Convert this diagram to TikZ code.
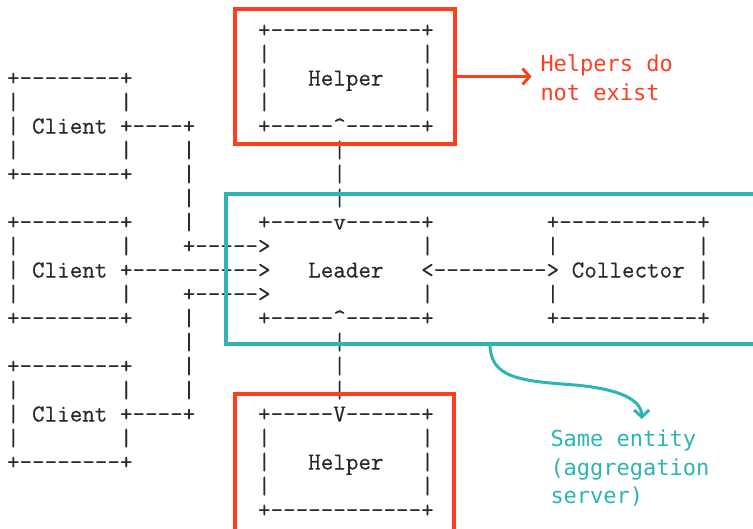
\documentclass[tikz,border=0pt]{standalone}
\usepackage{fontspec}
\newfontfamily\ascfont[FakeBold=0.5]{Latin Modern Mono}
\newfontfamily\notefont{DejaVu Sans Mono}
\usetikzlibrary{arrows.meta}
\definecolor{ink}{HTML}{2A2A2A}
\definecolor{hired}{HTML}{FF3D1F}
\definecolor{tealc}{HTML}{2DB4B4}
\newdimen\cw \cw=12.55pt
\newlength\glw
\settowidth\glw{\ascfont\fontsize{24}{24}\selectfont +}
\newlength\ascsize
\setlength\ascsize{\dimexpr 24pt*\numexpr\cw\relax/\numexpr\glw\relax\relax}
\newcommand\bl[1]{\kern#1\cw}
\newcommand\crt{\textasciicircum}
\tikzset{
  asc/.style={inner sep=0pt, outer sep=0pt, anchor=base west, text=ink,
    font=\ascfont\fontsize{\ascsize}{24}\selectfont},
  redframe/.style={draw=hired, line width=3.4pt, inner sep=0pt, outer sep=0pt},
  tealframe/.style={draw=tealc, line width=3.2pt, inner sep=0pt, outer sep=0pt},
  redline/.style={draw=hired, line width=3pt},
  tealline/.style={draw=tealc, line width=3pt},
  note/.style={inner sep=0pt, outer sep=0pt, anchor=base west,
    font=\notefont\fontsize{22}{29}\selectfont},
}
\newcommand\arow[4]{\node[asc] (#1) at ({7.03+12.55*#3},{37.5+24*#2}) {#4};}
\begin{document}
\begin{tikzpicture}[x=1pt,y=-1pt]
\useasboundingbox (0,0) rectangle (753,528);
\clip (0,0) rectangle (753,528);
% ASCII art, row by row
\arow{r0}{0}{20}{+------------+}
\arow{r1}{1}{20}{|\bl{12}|}
\arow{r2}{2}{0}{+--------+\bl{10}|\bl{3}Helper\bl{3}|}
\arow{r3}{3}{0}{|\bl{8}|\bl{10}|\bl{12}|}
\arow{r4}{4}{0}{|\bl{1}Client\bl{1}+----+\bl{5}+-----\crt------+}
\arow{r5}{5}{0}{|\bl{8}|\bl{4}|\bl{11}|}
\arow{r6}{6}{0}{+--------+\bl{4}|\bl{11}|}
\arow{r7}{7}{14}{|\bl{11}|}
\arow{r8}{8}{0}{+--------+\bl{4}|\bl{5}+-----v------+\bl{9}+-----------+}
\arow{r9}{9}{0}{|\bl{8}|\bl{4}+----->\bl{12}|\bl{9}|\bl{11}|}
\arow{r10}{10}{0}{|\bl{1}Client\bl{1}+---------->\bl{3}Leader\bl{3}<--------->\bl{1}Collector\bl{1}|}
\arow{r11}{11}{0}{|\bl{8}|\bl{4}+----->\bl{12}|\bl{9}|\bl{11}|}
\arow{r12}{12}{0}{+--------+\bl{4}|\bl{5}+-----\crt------+\bl{9}+-----------+}
\arow{r13}{13}{14}{|\bl{11}|}
\arow{r14}{14}{0}{+--------+\bl{4}|\bl{11}|}
\arow{r15}{15}{0}{|\bl{8}|\bl{4}|\bl{11}|}
\arow{r16}{16}{0}{|\bl{1}Client\bl{1}+----+\bl{5}+-----V------+}
\arow{r17}{17}{0}{|\bl{8}|\bl{10}|\bl{12}|}
\arow{r18}{18}{0}{+--------+\bl{10}|\bl{3}Helper\bl{3}|}
\arow{r19}{19}{20}{|\bl{12}|}
\arow{r20}{20}{20}{+------------+}
% highlight frames
\node[redframe, minimum width=220pt, minimum height=135pt] (hb1) at (345,76.5) {};
\node[redframe, minimum width=219pt, minimum height=152pt] (hb2) at (344.5,470) {};
\node[tealframe, minimum width=549pt, minimum height=150pt] (tb) at (500.5,269) {};
% annotations
\node[note, text=hired] (helpA) at (540.5,71) {Helpers do};
\node[note, text=hired] (helpB) at (540.5,100) {not exist};
\node[note, text=tealc] (sameA) at (550.5,446.7) {Same entity};
\node[note, text=tealc] (sameB) at (550.5,475) {(aggregation};
\node[note, text=tealc] (sameC) at (550.5,503) {server)};
\coordinate (redtip) at (531.5,76.5);
\draw[redline, -{Straight Barb[length=7pt,width=16pt]}] (hb1.east) -- (redtip);
\coordinate (tstart) at ([xshift=264pt]tb.south west);
\coordinate (tend) at (641.7,419);
\draw[tealline, -{Straight Barb[length=7pt,width=15pt]}] (tstart)
  .. controls (490,378) and (520,381) .. (575,385)
  .. controls (620,389) and (641.7,400) .. (tend);
\end{tikzpicture}
\end{document}
